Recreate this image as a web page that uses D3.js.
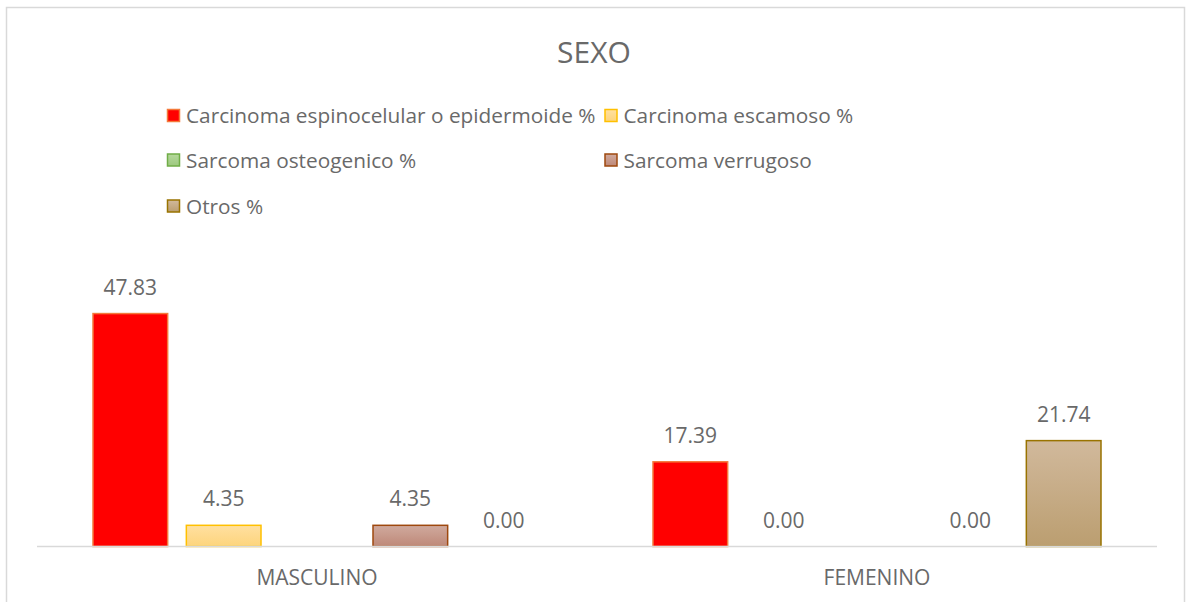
<!DOCTYPE html>
<html>
<head>
<meta charset="utf-8">
<script src="https://cdn.jsdelivr.net/npm/d3@7"></script>
<style>
  body { margin: 0; background: #fff; }
  text { font-family: "Open Sans", Lato, sans-serif; fill: #696969; }
</style>
</head>
<body>
<div id="chart"></div>
<script>
// data
const categories = ['MASCULINO', 'FEMENINO']
const seriesNames = [
  'Carcinoma espinocelular o epidermoide %',
  'Carcinoma escamoso %',
  'Sarcoma osteogenico %',
  'Sarcoma verrugoso',
  'Otros %'
]
const masculino = [47.83, 4.35, null, 4.35, 0.00]
const femenino = [17.39, 0.00, null, 0.00, 21.74]
const values = [masculino, femenino]

const fills = [
  ['#ff0000', '#ff0000'],
  ['#ffe0a0', '#fdd47c'],
  ['#b5d89c', '#9dc97f'],
  ['#d0aa9e', '#be8878'],
  ['#d1b99c', '#bb9e70']
]
const strokes = ['#f4793a', '#ffc000', '#70ad47', '#9e480e', '#997300']

let width = 1188, height = 602

let svg = d3.select('#chart').append('svg')
  .attr('width', width)
  .attr('height', height)

// chart border
svg.append('rect')
  .attr('x', 6.5).attr('y', 7.5)
  .attr('width', 1178).attr('height', 620)
  .attr('fill', 'none')
  .attr('stroke', '#d9d9d9')
  .attr('stroke-width', 1.5)

let defs = svg.append('defs')
fills.forEach((f, i) => {
  let g = defs.append('linearGradient')
    .attr('id', 'grad' + i)
    .attr('x1', 0).attr('y1', 0).attr('x2', 0).attr('y2', 1)
  g.append('stop').attr('offset', '0%').attr('stop-color', f[0])
  g.append('stop').attr('offset', '100%').attr('stop-color', f[1])
})

let plotLeft = 37, plotRight = 1157, baseY = 546.5

let x0 = d3.scaleBand()
  .domain(categories)
  .range([plotLeft, plotRight])

let x1 = d3.scaleBand()
  .domain(d3.range(seriesNames.length))
  .range([0, x0.bandwidth()])
  .paddingInner(0.2)
  .paddingOuter(0.6)

let y = d3.scaleLinear()
  .domain([0, 60])
  .range([baseY, baseY - 60 * 4.87])

// title
svg.append('text')
  .attr('x', 594)
  .attr('y', 62.5)
  .attr('text-anchor', 'middle')
  .style('font-size', '30px')
  .text('SEXO')

// legend
let legendPos = [
  [167, 116], [604.5, 116],
  [167, 160.5], [604.5, 160.5],
  [167, 206.5]
]
let legend = svg.selectAll('g.legend')
  .data(seriesNames)
  .enter()
  .append('g')
  .attr('class', 'legend')
  .attr('transform', (d, i) => `translate(${legendPos[i][0]},${legendPos[i][1]})`)
legend.append('rect')
  .attr('x', 0.5).attr('y', -6.5)
  .attr('width', 12).attr('height', 12)
  .attr('fill', (d, i) => `url(#grad${i})`)
  .attr('stroke', (d, i) => strokes[i])
  .attr('stroke-width', 1.5)
legend.append('text')
  .attr('x', 19)
  .attr('y', 7)
  .style('font-size', '20.8px')
  .text(d => d)

// bars
let groups = svg.selectAll('g.group')
  .data(categories)
  .enter()
  .append('g')
  .attr('class', 'group')
  .attr('transform', d => `translate(${x0(d)},0)`)

groups.selectAll('rect.bar')
  .data((d, gi) => values[gi].map((v, si) => ({ v, si })))
  .enter()
  .filter(d => d.v !== null && d.v > 0)
  .append('rect')
  .attr('class', 'bar')
  .attr('x', d => x1(d.si))
  .attr('y', d => y(d.v))
  .attr('width', x1.bandwidth())
  .attr('height', d => baseY - y(d.v))
  .attr('fill', d => `url(#grad${d.si})`)
  .attr('stroke', d => strokes[d.si])
  .attr('stroke-width', 1.5)

// axis line
svg.append('line')
  .attr('x1', plotLeft).attr('x2', plotRight)
  .attr('y1', baseY).attr('y2', baseY)
  .attr('stroke', '#d9d9d9')
  .attr('stroke-width', 1.5)

// data labels
groups.selectAll('text.label')
  .data((d, gi) => values[gi].map((v, si) => ({ v, si })))
  .enter()
  .filter(d => d.v !== null)
  .append('text')
  .attr('class', 'label')
  .attr('x', d => x1(d.si) + x1.bandwidth() / 2)
  .attr('y', d => y(d.v) - 19)
  .attr('text-anchor', 'middle')
  .style('font-size', '21px')
  .text(d => d.v.toFixed(2))

// category labels
svg.selectAll('text.cat')
  .data(categories)
  .enter()
  .append('text')
  .attr('class', 'cat')
  .attr('x', d => x0(d) + x0.bandwidth() / 2)
  .attr('y', 584.5)
  .attr('text-anchor', 'middle')
  .style('font-size', '21px')
  .text(d => d)
</script>
</body>
</html>
